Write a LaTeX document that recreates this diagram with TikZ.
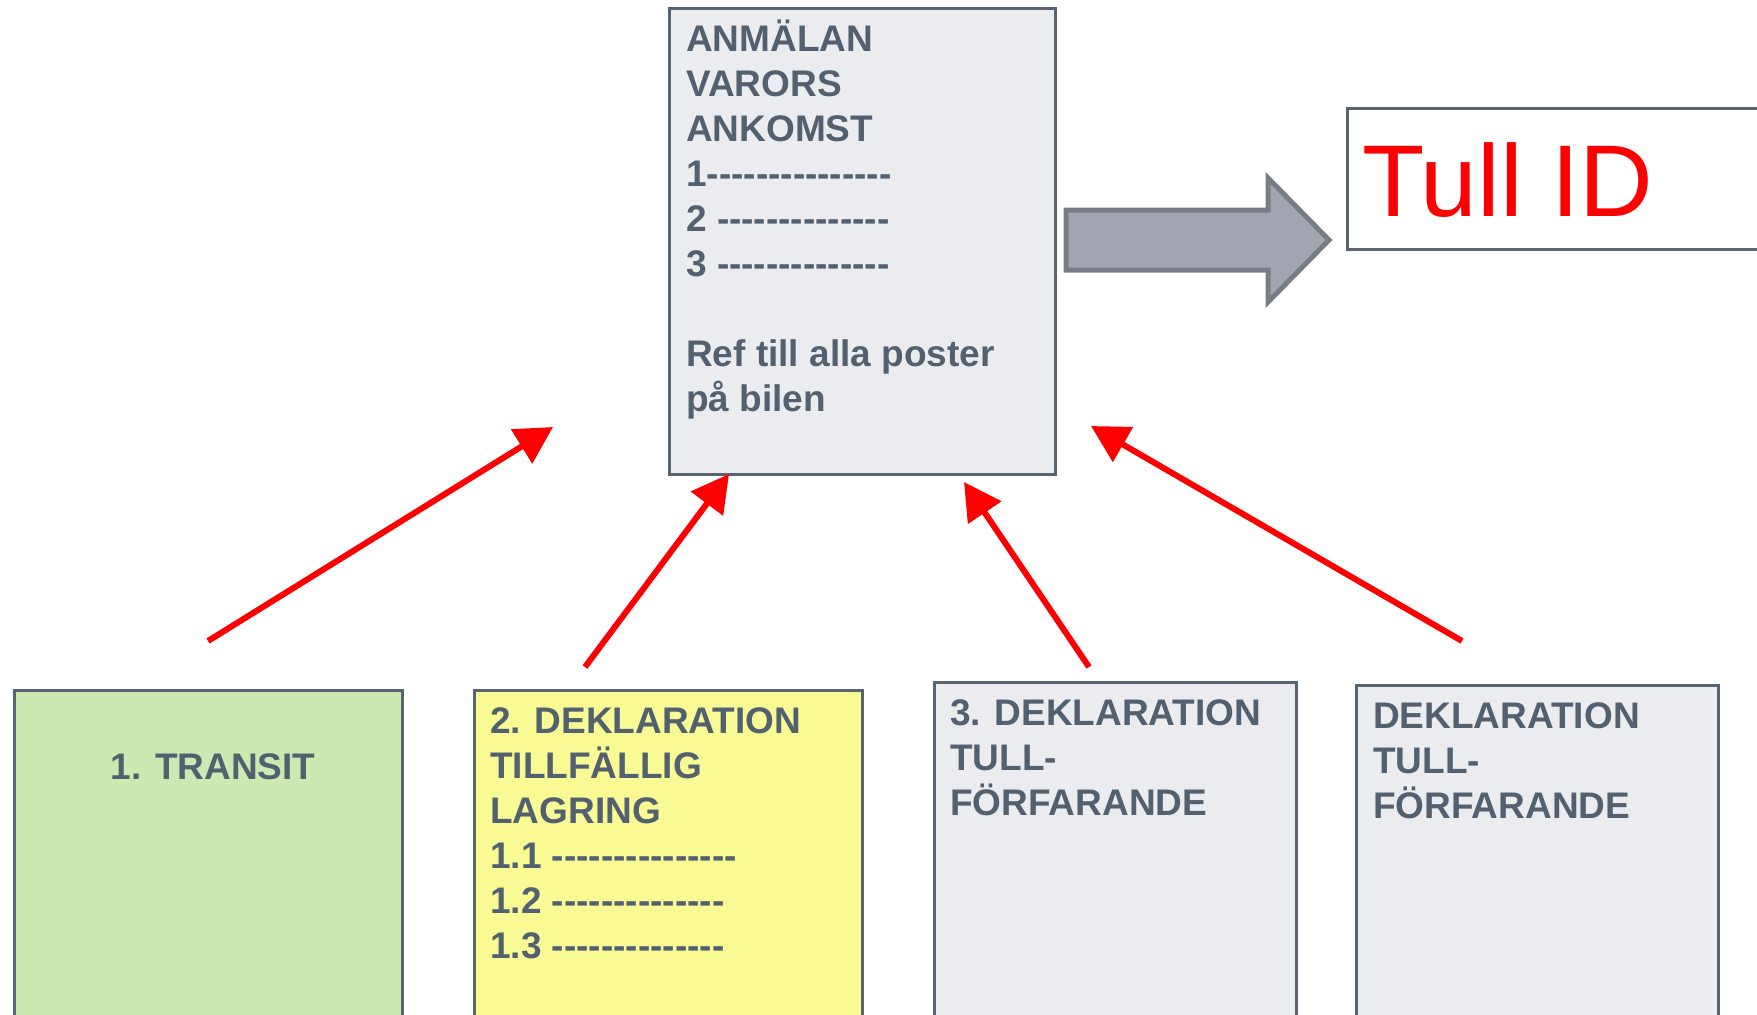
\documentclass[tikz,border=0pt]{standalone}
\usepackage{fontspec}
\setmainfont{Liberation Sans}[Ligatures=TeXOff]
\usetikzlibrary{arrows.meta}
\definecolor{boxgray}{RGB}{235,236,240}
\definecolor{boxline}{RGB}{88,100,112}
\definecolor{txt}{RGB}{82,96,112}
\definecolor{greenfill}{RGB}{207,232,178}
\definecolor{yellowfill}{RGB}{250,250,148}
\definecolor{arrfill}{RGB}{161,166,177}
\definecolor{arrline}{RGB}{120,125,133}
\definecolor{tullred}{RGB}{255,0,0}
\tikzset{
  panel/.style={draw=boxline, line width=2.5pt, anchor=north west, inner sep=0pt},
  label/.style={inner sep=0pt, anchor=base west, align=left, text=txt,
    font=\fontsize{37}{45}\selectfont\bfseries},
  redarrow/.style={draw=tullred, line width=6pt, -{Triangle[length=37pt,width=39pt]}, fill=tullred},
}
\begin{document}
\begin{tikzpicture}[x=1pt,y=-1pt]
\clip (0,0) rectangle (1757,1015);
\fill[white] (0,0) rectangle (1757,1015);
% boxes
\node[panel, fill=boxgray, minimum width=386pt, minimum height=466pt] (anm) at (668,7) {};
\node[panel, fill=white, minimum width=460pt, minimum height=141pt] (tull) at (1346,107) {};
\node[panel, fill=greenfill, minimum width=388pt, minimum height=360pt] (b1) at (13,689) {};
\node[panel, fill=yellowfill, minimum width=388pt, minimum height=360pt] (b2) at (473,689) {};
\node[panel, fill=boxgray, minimum width=362pt, minimum height=370pt] (b3) at (933,681) {};
\node[panel, fill=boxgray, minimum width=362pt, minimum height=370pt] (b4) at (1355,684) {};
% texts (base anchor = baseline of last line)
\node[label] (anmtxt) at (686,411) {ANMÄLAN\\VARORS\\ANKOMST\\1---------------\\2 --------------\\3 --------------\\[45pt]Ref till alla poster\\på bilen};
\node[inner sep=0pt, anchor=base west, text=tullred, font=\fontsize{102}{110}\selectfont] (tulltxt) at (1362,216) {Tull ID};
\node[label, anchor=base] (b1txt) at (213,779) {1. TRANSIT};
\node[label] (b2txt) at (490,958) {2. DEKLARATION\\TILLFÄLLIG\\LAGRING\\1.1 ---------------\\1.2 --------------\\1.3 --------------};
\node[label] (b3txt) at (950,815) {3. DEKLARATION\\TULL-\\FÖRFARANDE};
\node[label] (b4txt) at (1373,818) {DEKLARATION\\TULL-\\FÖRFARANDE};
% block arrow
\draw[fill=arrfill, draw=arrline, line width=5pt, line join=miter]
  (1066,210) -- (1268,210) -- (1268,178) -- (1329,240) -- (1268,302) -- (1268,270) -- (1066,270) -- cycle;
% red arrows
\coordinate (s1) at (208,641); \coordinate (t1) at (553,427);
\coordinate (s2) at (585,667); \coordinate (t2) at (729,474);
\coordinate (s3) at (1089,667); \coordinate (t3) at (964,482);
\coordinate (s4) at (1462,641); \coordinate (t4) at (1091,426);
\draw[redarrow] (s1) -- (t1);
\draw[redarrow] (s2) -- (t2);
\draw[redarrow] (s3) -- (t3);
\draw[redarrow] (s4) -- (t4);
\end{tikzpicture}
\end{document}
